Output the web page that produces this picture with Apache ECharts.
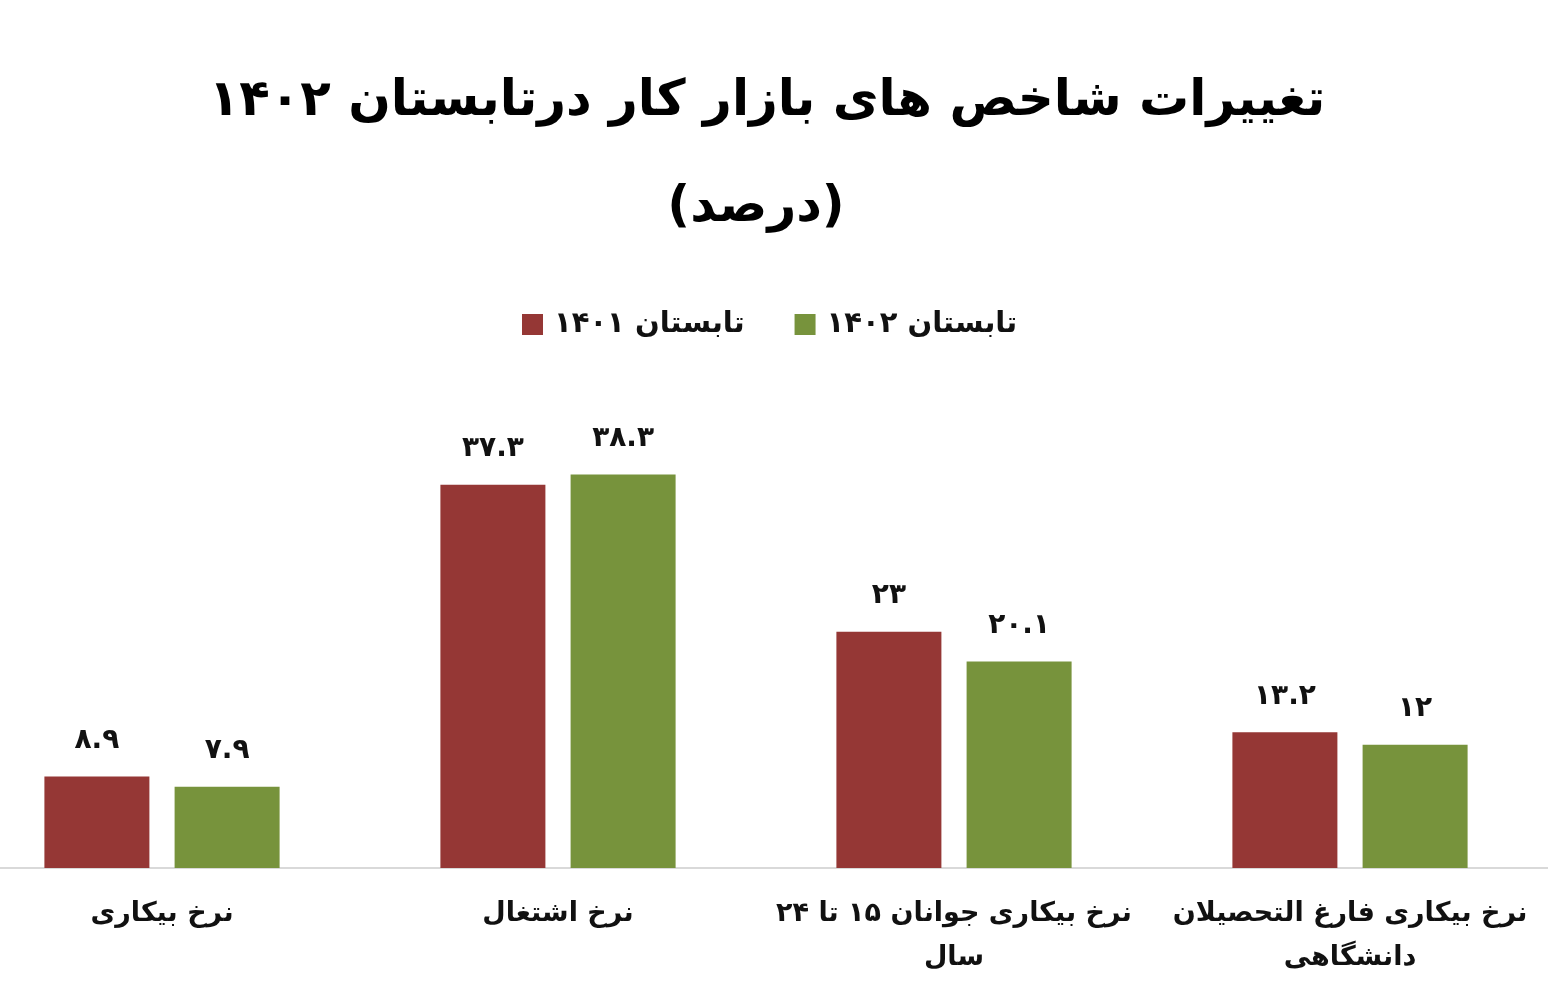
<!DOCTYPE html>
<html>
<head>
<meta charset="utf-8">
<script src="https://cdn.jsdelivr.net/npm/echarts@6/dist/echarts.min.js"></script>
<style>
  html, body { margin: 0; padding: 0; background: #fff; overflow: hidden; }
  /* نمودار کمی از سمت چپ بریده شده است */
  #chart { position: absolute; left: -36px; top: 0; width: 1584px; height: 1000px; }
</style>
</head>
<body>
<div id="chart"></div>
<script>
// داده‌ها
const categories = [
  'نرخ بیکاری',
  'نرخ اشتغال',
  'نرخ بیکاری جوانان ۱۵ تا ۲۴\nسال',
  'نرخ بیکاری فارغ التحصیلان\nدانشگاهی'
];
const seriesNames = ['تابستان ۱۴۰۱', 'تابستان ۱۴۰۲'];
const values1401 = [8.9, 37.3, 23, 13.2];
const values1402 = [7.9, 38.3, 20.1, 12];

const faFont = 'DejaVu Sans';

// تبدیل ارقام به فارسی
const toFa = v => String(v).replace(/\d/g, d => '۰۱۲۳۴۵۶۷۸۹'[d]);

const myChart = echarts.init(document.getElementById('chart'));

const labelStyle = {
  show: true,
  position: 'top',
  distance: 22,
  fontFamily: faFont,
  fontWeight: 'bold',
  fontSize: 28,
  color: '#111',
  formatter: p => toFa(p.value)
};

const option = {
  backgroundColor: '#fff',
  title: [
    {
      text: 'تغییرات شاخص های بازار کار درتابستان ۱۴۰۲',
      left: 798,
      textAlign: 'center',
      top: 72,
      textStyle: { fontFamily: faFont, fontWeight: 'bold', fontSize: 50, color: '#000' }
    },
    {
      text: '(درصد)',
      left: 'center',
      top: 178,
      textStyle: { fontFamily: faFont, fontWeight: 'bold', fontSize: 50, color: '#000' }
    }
  ],
  legend: {
    top: 305,
    left: 553,
    itemWidth: 21,
    itemHeight: 21,
    itemGap: 50,
    icon: 'rect',
    textStyle: {
      fontFamily: faFont, fontWeight: 'bold', fontSize: 29, color: '#111',
      padding: [0, 0, 0, 6]
    },
    data: seriesNames
  },
  grid: {
    left: 0,
    right: 0,
    top: 457,
    bottom: 132,
    containLabel: false
  },
  xAxis: {
    type: 'category',
    data: categories,
    axisLine: { show: true, lineStyle: { color: '#d9d9d9', width: 2 } },
    axisTick: { show: false },
    axisLabel: {
      margin: 24,
      interval: 0,
      fontFamily: faFont,
      fontWeight: 'bold',
      fontSize: 27,
      lineHeight: 44,
      color: '#111'
    }
  },
  yAxis: {
    type: 'value',
    min: 0,
    max: 40,
    show: false,
    splitLine: { show: false }
  },
  series: [
    {
      name: seriesNames[0],
      type: 'bar',
      data: values1401,
      barWidth: 105,
      barGap: '24%',
      itemStyle: { color: '#953735' },
      label: labelStyle
    },
    {
      name: seriesNames[1],
      type: 'bar',
      data: values1402,
      barWidth: 105,
      barGap: '24%',
      itemStyle: { color: '#77933c' },
      label: labelStyle
    }
  ]
};

myChart.setOption(option);
</script>
</body>
</html>
